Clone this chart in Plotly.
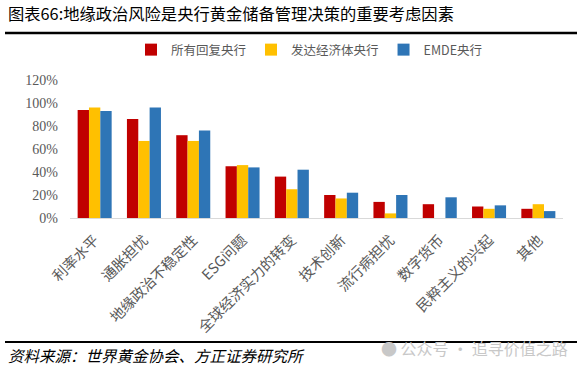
import plotly.graph_objects as go

categories = ["利率水平", "通胀担忧", "地缘政治不稳定性", "ESG问题", "全球经济实力的转变",
              "技术创新", "流行病担忧", "数字货币", "民粹主义的兴起", "其他"]
all_banks = [0.94, 0.86, 0.72, 0.45, 0.36, 0.20, 0.14, 0.12, 0.10, 0.08]
advanced = [0.96, 0.67, 0.67, 0.46, 0.25, 0.17, 0.04, 0.00, 0.08, 0.12]
emde = [0.93, 0.96, 0.76, 0.44, 0.42, 0.22, 0.20, 0.18, 0.11, 0.06]
series_names = ["所有回复央行", "发达经济体央行", "EMDE央行"]
y_ticks = [0, 0.2, 0.4, 0.6, 0.8, 1.0, 1.2]
y_tick_labels = ["0%", "20%", "40%", "60%", "80%", "100%", "120%"]

colors = ["#C00000", "#FFC000", "#2E75B6"]
CJK = "Noto Sans CJK SC"

L, R, T, B = 70, 19, 80, 153
W, H = 582, 371
plot_w = W - L - R
plot_h = H - T - B


def px(x):
    return (x - L) / plot_w


def py(y):
    return (H - B - y) / plot_h


fig = go.Figure()
for name, vals, c in zip(series_names, [all_banks, advanced, emde], colors):
    fig.add_trace(go.Bar(x=categories, y=vals, name=name, marker=dict(color=c, line=dict(width=0))))

fig.update_layout(
    width=W, height=H,
    margin=dict(l=L, r=R, t=T, b=B, autoexpand=False),
    plot_bgcolor="white", paper_bgcolor="white",
    barmode="group", bargap=0.31, bargroupgap=0,
    showlegend=True,
    legend=dict(orientation="h", x=px(131), xanchor="left", y=py(50), yanchor="middle",
                font=dict(family=CJK, size=12.5, color="#595959"),
                traceorder="normal", itemwidth=30),
    xaxis=dict(tickangle=-45, tickfont=dict(family=CJK, size=14.5, color="#595959"),
               showline=True, linecolor="#D9D9D9", linewidth=1, ticks="", showgrid=False,
               automargin=False, ticklabelstandoff=7),
    yaxis=dict(range=[0, 1.2], tickvals=y_ticks, ticktext=y_tick_labels,
               tickfont=dict(family="Liberation Serif", size=14, color="#595959"),
               showgrid=False, zeroline=False, showline=False, ticks="", automargin=False,
               ticklabelstandoff=11),
    font=dict(family=CJK),
)

fig.add_annotation(xref="paper", yref="paper", x=px(6), y=py(13),
                   xanchor="left", yanchor="middle", showarrow=False,
                   text="图表66:地缘政治风险是央行黄金储备管理决策的重要考虑因素",
                   font=dict(family=CJK, size=16.3, color="#000000"))
fig.add_annotation(xref="paper", yref="paper", x=px(6), y=py(355),
                   xanchor="left", yanchor="middle", showarrow=False,
                   text="<i>资料来源：世界黄金协会、方正证券研究所</i>",
                   font=dict(family=CJK, size=15.5, color="#000000"))
fig.add_annotation(xref="paper", yref="paper", x=px(570), y=py(348),
                   xanchor="right", yanchor="middle", showarrow=False,
                   text="● 公众号 · 追寻价值之路",
                   font=dict(family=CJK, size=16, color="#C8C8C8"))
fig.add_shape(type="line", xref="paper", yref="paper",
              x0=px(5), x1=px(577), y0=py(33), y1=py(33),
              line=dict(color="black", width=2.5))
fig.add_shape(type="line", xref="paper", yref="paper",
              x0=px(5), x1=px(577), y0=py(342), y1=py(342),
              line=dict(color="black", width=2))

fig.write_html("out.html", config={"displayModeBar": False},
               post_script="document.body.style.margin='0px';document.body.style.overflow='hidden';")
